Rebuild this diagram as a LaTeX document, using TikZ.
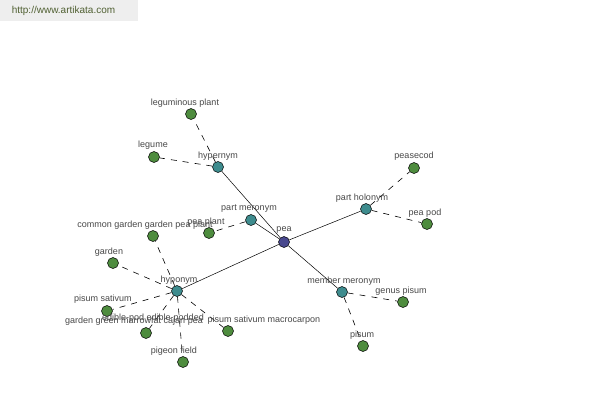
\documentclass[tikz,border=0pt]{standalone}
\usepackage{fontspec}
\setmainfont{Liberation Sans}
\definecolor{leafgreen}{RGB}{78,140,62}
\definecolor{catteal}{RGB}{62,140,142}
\definecolor{rootblue}{RGB}{72,72,142}
\definecolor{lblgray}{RGB}{72,72,72}
\definecolor{wmgray}{RGB}{238,238,238}
\definecolor{wmtext}{RGB}{80,96,50}
\tikzset{
  dot/.style={circle, draw=black, line width=0.5bp, minimum size=11bp, inner sep=0pt},
  leaf/.style={dot, fill=leafgreen},
  cat/.style={dot, fill=catteal},
  root/.style={dot, fill=rootblue},
  lbl/.style={font=\fontsize{9bp}{10bp}\selectfont, text=lblgray, inner sep=0pt, anchor=center},
  solidedge/.style={draw=black, line width=0.5bp},
  dashedge/.style={draw=black, line width=0.6bp, dash pattern=on 6bp off 6bp}
}
\begin{document}
\begin{tikzpicture}[x=1bp,y=-1bp]
\useasboundingbox (0,0) rectangle (600,400);
\fill[white] (0,0) rectangle (600,400);
% watermark
\fill[wmgray] (0,0) rectangle (138,21);
\node[font=\fontsize{10bp}{12bp}\selectfont, text=wmtext, inner sep=0pt] (wm) at (63.5,11) {http://www.artikata.com};

% nodes
\node[root] (pea) at (284,242) {};
\node[cat] (hyper) at (218,167) {};
\node[cat] (pmer) at (251,220) {};
\node[cat] (phol) at (366,209) {};
\node[cat] (mmer) at (342,292) {};
\node[cat] (hypo) at (177,291) {};

\node[leaf] (legplant) at (191,114) {};
\node[leaf] (legume) at (154,157) {};
\node[leaf] (peasecod) at (414,168) {};
\node[leaf] (peapod) at (427,224) {};
\node[leaf] (peaplant) at (209,233) {};
\node[leaf] (common) at (153,236) {};
\node[leaf] (garden) at (113,263) {};
\node[leaf] (sativum) at (107,311) {};
\node[leaf] (green) at (146,333) {};
\node[leaf] (macro) at (228,331) {};
\node[leaf] (pigeon) at (183,362) {};
\node[leaf] (genus) at (403,302) {};
\node[leaf] (pisum) at (363,346) {};

% solid edges
\draw[solidedge] (pea) -- (hyper);
\draw[solidedge] (pea) -- (pmer);
\draw[solidedge] (pea) -- (phol);
\draw[solidedge] (pea) -- (mmer);
\draw[solidedge] (pea) -- (hypo);

% dashed edges
\draw[dashedge] (hyper) -- (legplant);
\draw[dashedge] (hyper) -- (legume);
\draw[dashedge] (phol) -- (peasecod);
\draw[dashedge] (phol) -- (peapod);
\draw[dashedge] (pmer) -- (peaplant);
\draw[dashedge] (mmer) -- (genus);
\draw[dashedge] (mmer) -- (pisum);
\draw[dashedge] (hypo) -- (common);
\draw[dashedge] (hypo) -- (garden);
\draw[dashedge] (hypo) -- (sativum);
\draw[dashedge] (hypo) -- (green);
\draw[dashedge] (hypo) -- (macro);
\draw[dashedge] (hypo) -- (pigeon);

% labels
\node[lbl] (l-pea) at (284,230) {pea};
\node[lbl] (l-hyper) at (218,156) {hypernym};
\node[lbl] (l-pmer) at (249,209) {part meronym};
\node[lbl] (l-phol) at (362,198) {part holonym};
\node[lbl] (l-mmer) at (344,281) {member meronym};
\node[lbl] (l-hypo) at (179,280) {hyponym};
\node[lbl] (l-legplant) at (185,103) {leguminous plant};
\node[lbl] (l-legume) at (153,145) {legume};
\node[lbl] (l-peasecod) at (414,156) {peasecod};
\node[lbl] (l-peapod) at (425,213) {pea pod};
\node[lbl] (l-common) at (145,225) {common garden garden pea plant};
\node[lbl] (l-peaplant) at (206,222) {pea plant};
\node[lbl] (l-garden) at (109,252) {garden};
\node[lbl] (l-sativum) at (103,299) {pisum sativum};
\node[lbl] (l-green) at (134,321) {garden green marrowfat cajan pea};
\node[lbl] (l-edible) at (153,318) {edible-pod edible-podded};
\node[lbl] (l-macro) at (264,320) {pisum sativum macrocarpon};
\node[lbl] (l-pigeon) at (174,351) {pigeon field};
\node[lbl] (l-genus) at (401,291) {genus pisum};
\node[lbl] (l-pisum) at (362,335) {pisum};
\end{tikzpicture}
\end{document}
